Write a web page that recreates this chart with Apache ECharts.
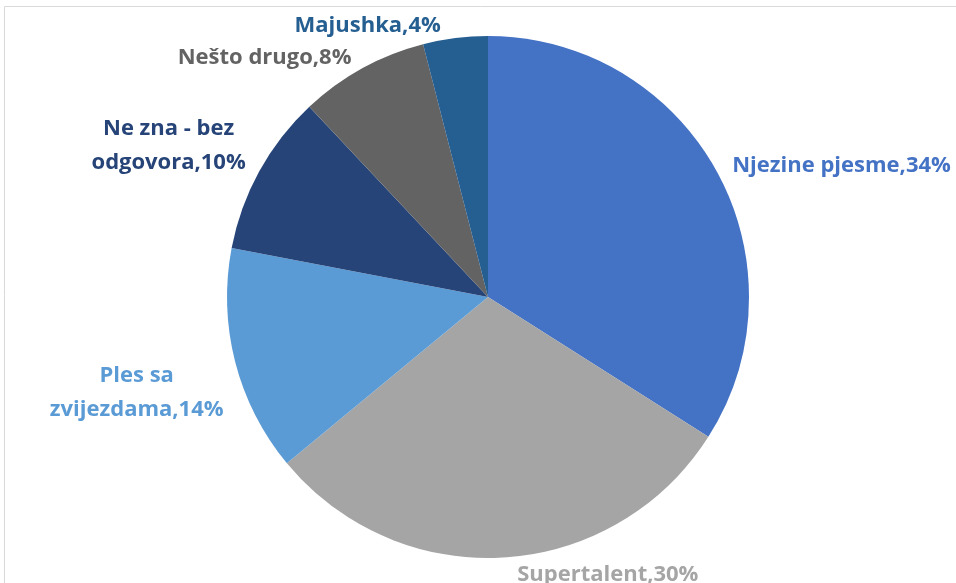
<!DOCTYPE html>
<html>
<head>
<meta charset="utf-8">
<script src="https://cdn.jsdelivr.net/npm/echarts@6/dist/echarts.min.js"></script>
<style>
  html, body { margin: 0; padding: 0; background: #fff; }
  #chart { width: 956px; height: 583px; }
</style>
</head>
<body>
<div id="chart"></div>
<script>
// categories + values (percent), clockwise from 12 o'clock
var categories = ['Njezine pjesme', 'Supertalent', 'Ples sa\nzvijezdama', 'Ne zna - bez\nodgovora', 'Nešto drugo', 'Majushka'];
var values = [34, 30, 14, 10, 8, 4];
var colors = ['#4472C4', '#A5A5A5', '#5B9BD5', '#264478', '#636363', '#255E91'];

var chart = echarts.init(document.getElementById('chart'));

var data = categories.map(function (name, i) {
    return {
        name: name,
        value: values[i],
        itemStyle: { color: colors[i] },
        label: { color: colors[i] }
    };
});

// small label nudges (excel places them a bit differently)
var nudge = { 1: [7, 5], 2: [5, 28], 3: [2, -20], 5: [-8, 0] };

chart.setOption({
    animation: false,
    graphic: [{
        type: 'rect',
        shape: { x: 4.5, y: 6.5, width: 1000, height: 1000 },
        style: { fill: 'none', stroke: '#d9d9d9', lineWidth: 1 },
        silent: true
    }],
    series: [{
        type: 'pie',
        center: [488, 297],
        radius: 261,
        startAngle: 90,
        clockwise: true,
        avoidLabelOverlap: false,
        itemStyle: { borderWidth: 0 },
        label: {
            show: true,
            position: 'outside',
            fontFamily: 'Open Sans',
            fontWeight: 'bold',
            fontSize: 22,
            lineHeight: 34,
            formatter: function (p) { return p.name + ',' + p.value + '%'; }
        },
        labelLine: { show: false, length: 12, length2: 0 },
        labelLayout: function (p) {
            var n = nudge[p.dataIndex];
            if (!n) return {};
            if (p.text && p.text.indexOf('\n') >= 0) {
                // two-line labels are centred
                return { x: p.labelRect.x + p.labelRect.width / 2 + n[0], align: 'center', dy: n[1] };
            }
            return { dx: n[0], dy: n[1] };
        },
        data: data
    }]
});
</script>
</body>
</html>
